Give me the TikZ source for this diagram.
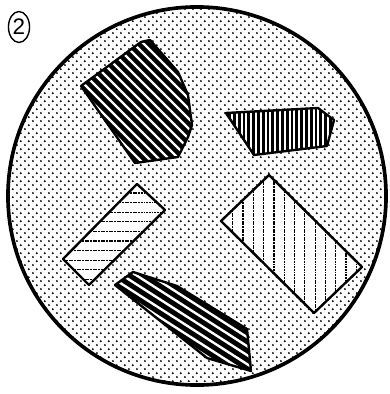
\documentclass[tikz,border=0pt]{standalone}
\usepackage{fontspec}
\setsansfont{Liberation Sans}
\usepackage{tikz}
\usetikzlibrary{patterns,shapes.geometric}
% grainy grey of the plate
\pgfdeclarepatternformonly{grain}{\pgfqpoint{0pt}{0pt}}{\pgfqpoint{5.6pt}{5.6pt}}{\pgfqpoint{5.6pt}{5.6pt}}{
  \pgfpathcircle{\pgfqpoint{1.4pt}{1.4pt}}{0.8pt}
  \pgfpathcircle{\pgfqpoint{4.2pt}{4.2pt}}{0.8pt}
  \pgfusepath{fill}}

\begin{document}
\begin{tikzpicture}[x=0.025cm,y=-0.025cm,
  rim/.style={draw,line width=1.7pt,line join=round},
  inkgrain/.style={rim,fill=black},
  white stripe/.style={white,line width=1.7pt},
  black stripe/.style={black,line width=1.9pt},
  thin stripe/.style={black,line width=0.85pt,dash pattern=on 1.4pt off 0.5pt}]
\useasboundingbox (0,0) rectangle (389,394);
% the plate
\fill[white] (197,196) circle (4.725cm);
\fill[pattern=grain] (197,196) circle (4.725cm);
\draw[line width=2.6pt] (197,196) circle (4.725cm);
\node[draw,ellipse,line width=1pt,inner sep=0pt,minimum width=15pt,minimum height=22pt,
  font=\sffamily\fontsize{16}{16}\selectfont] (tag) at (19,27) {2};
% dark grain, top left
\path[inkgrain,path picture={
  \foreach \c in {-120,-110,...,40} \draw[white stripe] (0,\c) -- ++(300,300);}]
  (141,42) -- (150,40) -- (178,72) -- (188,95) -- (192,125) -- (188,137)
  -- (178,157) -- (135,163) -- (81,86) -- cycle;
% dark grain, bottom
\path[inkgrain,path picture={
  \foreach \c in {170,179,...,232} \draw[white stripe] (0,\c) -- ++(400,256);}]
  (115,285) -- (133,272) -- (177,286) -- (247,329) -- (251,371)
  -- (207,358) -- cycle;
% upright lines, right
\path[rim,fill=white,path picture={
  \foreach \x in {220,224.8,...,340} \draw[black stripe] (\x,100) -- (\x,160);}]
  (226,113) -- (318,108) -- (334,120) -- (327,146) -- (254,155) -- cycle;
% light grain, left
\path[rim,fill=white,path picture={
  \foreach \y in {183.4,193,...,295} \draw[thin stripe] (50,\y) -- (180,\y);}]
  (137,184) -- (165,210) -- (89,285) -- (63,259) -- cycle;
% light grain, right
\path[rim,fill=white,path picture={
  \foreach \x in {232.7,243,...,370} \draw[thin stripe] (\x,170) -- (\x,320);}]
  (269,175) -- (362,267) -- (314,313) -- (221,221) -- cycle;
\end{tikzpicture}
\end{document}
